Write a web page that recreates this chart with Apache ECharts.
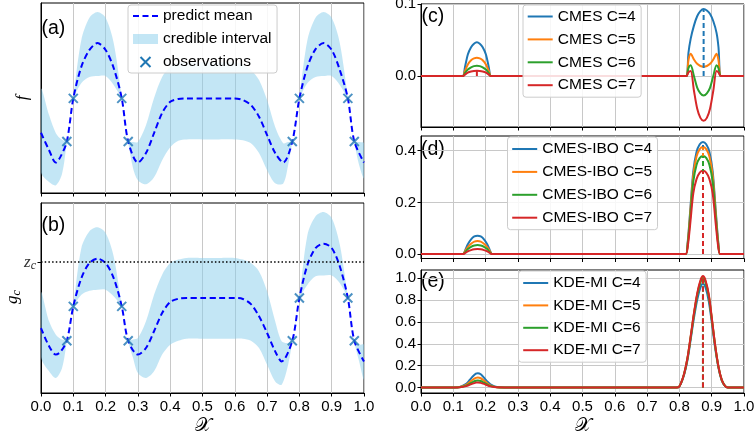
<!DOCTYPE html>
<html><head><meta charset="utf-8">
<script src="https://cdn.jsdelivr.net/npm/echarts@6/dist/echarts.min.js"></script>
<style>html,body{margin:0;padding:0;background:#fff}#c{width:756px;height:435px}</style>
</head><body><div id="c"></div>
<script>
// ---------- panel (a): f ----------
const xMeanA = [0,0.025,0.046,0.06,0.08,0.1,0.125,0.15,0.175,0.2,0.225,0.25,0.27,0.3,0.325,0.35,0.375,0.4,0.425,0.45,0.5,0.55,0.6,0.625,0.65,0.675,0.7,0.725,0.75,0.778,0.8,0.825,0.85,0.875,0.9,0.925,0.95,0.97,1.0];
const meanA  = [0.317,0.225,0.160,0.190,0.271,0.498,0.665,0.753,0.789,0.753,0.658,0.498,0.271,0.160,0.210,0.315,0.421,0.480,0.495,0.498,0.498,0.498,0.498,0.489,0.463,0.401,0.305,0.210,0.160,0.271,0.498,0.665,0.757,0.789,0.753,0.648,0.498,0.271,0.160];
const xBandA = [0,0.025,0.046,0.065,0.08,0.09,0.1,0.125,0.15,0.175,0.2,0.225,0.25,0.26,0.27,0.285,0.3,0.325,0.35,0.375,0.4,0.425,0.45,0.5,0.55,0.6,0.625,0.65,0.675,0.7,0.725,0.75,0.765,0.778,0.79,0.8,0.825,0.85,0.875,0.9,0.925,0.95,0.96,0.97,0.985,1.0];
const hiA = [0.547,0.410,0.315,0.280,0.275,0.390,0.505,0.806,0.922,0.952,0.922,0.790,0.505,0.390,0.275,0.268,0.269,0.357,0.500,0.611,0.664,0.685,0.688,0.688,0.688,0.688,0.674,0.648,0.595,0.489,0.347,0.262,0.268,0.275,0.390,0.505,0.806,0.922,0.952,0.922,0.790,0.505,0.390,0.275,0.268,0.262];
const loA = [0.109,0.058,0.041,0.100,0.267,0.378,0.491,0.579,0.611,0.616,0.616,0.569,0.491,0.378,0.267,0.130,0.067,0.046,0.083,0.173,0.241,0.275,0.282,0.282,0.282,0.282,0.278,0.262,0.210,0.120,0.051,0.050,0.146,0.267,0.378,0.491,0.579,0.611,0.616,0.616,0.569,0.491,0.378,0.267,0.146,0.078];
const obsX  = [0.08,0.1,0.25,0.27,0.778,0.8,0.95,0.97];
const obsFa = [0.271,0.498,0.498,0.271,0.271,0.498,0.498,0.271];

// ---------- panel (b): g_c ----------
const xMeanB = [0,0.025,0.046,0.06,0.08,0.1,0.125,0.15,0.175,0.2,0.225,0.25,0.27,0.3,0.325,0.35,0.375,0.4,0.425,0.45,0.5,0.55,0.6,0.625,0.65,0.675,0.7,0.725,0.745,0.778,0.8,0.825,0.85,0.875,0.9,0.925,0.95,0.97,1.0];
const meanB  = [0.342,0.246,0.202,0.216,0.275,0.456,0.605,0.684,0.707,0.684,0.605,0.456,0.275,0.202,0.237,0.325,0.421,0.479,0.496,0.500,0.500,0.500,0.500,0.495,0.468,0.404,0.316,0.219,0.166,0.275,0.500,0.675,0.763,0.786,0.763,0.667,0.500,0.275,0.166];
const xBandB = [0,0.025,0.046,0.065,0.08,0.09,0.1,0.125,0.15,0.175,0.2,0.225,0.25,0.26,0.27,0.285,0.3,0.325,0.35,0.375,0.4,0.425,0.45,0.5,0.55,0.6,0.625,0.65,0.675,0.7,0.725,0.745,0.765,0.778,0.79,0.8,0.825,0.85,0.875,0.9,0.925,0.95,0.96,0.97,0.985,1.0];
const hiB = [0.530,0.377,0.307,0.281,0.280,0.370,0.462,0.763,0.851,0.872,0.842,0.719,0.462,0.370,0.280,0.281,0.289,0.377,0.517,0.623,0.684,0.702,0.711,0.711,0.711,0.711,0.702,0.684,0.640,0.535,0.377,0.272,0.263,0.280,0.395,0.506,0.833,0.930,0.953,0.921,0.781,0.506,0.395,0.280,0.254,0.254];
const loB = [0.190,0.114,0.079,0.130,0.270,0.360,0.450,0.517,0.538,0.544,0.544,0.509,0.450,0.360,0.270,0.184,0.105,0.079,0.114,0.202,0.254,0.275,0.286,0.286,0.286,0.286,0.286,0.275,0.237,0.149,0.061,0.044,0.149,0.270,0.380,0.494,0.570,0.614,0.619,0.619,0.579,0.494,0.380,0.270,0.166,0.070];
const obsGb = [0.275,0.456,0.456,0.275,0.275,0.500,0.500,0.275];
const zc = 0.689;

// ---------- panel (c): CMES ----------
const xC = [0,0.12,0.13,0.136,0.145,0.155,0.164,0.173,0.182,0.191,0.201,0.21,0.216,0.226,0.81,0.822,0.828,0.835,0.845,0.855,0.865,0.875,0.885,0.895,0.905,0.915,0.921,0.928,0.94,1];
const c4 = [0,0,0,0.012,0.03,0.04,0.045,0.047,0.045,0.04,0.03,0.012,0,0, 0,0,0.032,0.052,0.07,0.083,0.09,0.093,0.091,0.086,0.076,0.06,0.04,0,0,0];
const c5 = [0,0,0,0.007,0.016,0.022,0.0245,0.0255,0.0245,0.022,0.016,0.007,0,0, 0,0,0.022,0.031,0.023,0.017,0.014,0.013,0.014,0.017,0.023,0.031,0.022,0,0,0];
const c6 = [0,0,0,0.004,0.009,0.012,0.0138,0.0144,0.0138,0.012,0.009,0.004,0,0, 0,0,0.011,0.015,0.0,-0.016,-0.024,-0.027,-0.024,-0.016,0.0,0.015,0.011,0,0,0];
const c7 = [0,0,0,0.002,0.0047,0.0063,0.0071,0.0074,0.0071,0.0063,0.0047,0.002,0,0, 0,0,0.005,0.007,-0.02,-0.045,-0.058,-0.062,-0.058,-0.045,-0.02,0.007,0.005,0,0,0];
const cArgX = [0.875, 0.173];
const cArgY = [0.093, 0.0074];
const namesC = ['CMES C=4','CMES C=5','CMES C=6','CMES C=7'];

// ---------- panel (d): CMES-IBO ----------
const xD = [0,0.12,0.13,0.137,0.145,0.155,0.165,0.175,0.185,0.195,0.205,0.213,0.22,0.23,0.81,0.82,0.826,0.833,0.843,0.853,0.863,0.873,0.883,0.893,0.903,0.913,0.92,0.926,0.936,1];
const d4 = [0,0,0,0.015,0.038,0.057,0.068,0.071,0.068,0.057,0.038,0.015,0,0, 0,0,0.05,0.16,0.32,0.395,0.425,0.434,0.425,0.395,0.32,0.16,0.05,0,0,0];
const d5 = [0,0,0,0.011,0.027,0.040,0.048,0.050,0.048,0.040,0.027,0.011,0,0, 0,0,0.045,0.15,0.305,0.378,0.406,0.415,0.406,0.378,0.305,0.15,0.045,0,0,0];
const d6 = [0,0,0,0.007,0.019,0.028,0.033,0.035,0.033,0.028,0.019,0.007,0,0, 0,0,0.04,0.135,0.28,0.345,0.372,0.38,0.372,0.345,0.28,0.135,0.04,0,0,0];
const d7 = [0,0,0,0.004,0.010,0.015,0.018,0.019,0.018,0.015,0.010,0.004,0,0, 0,0,0.03,0.11,0.235,0.29,0.315,0.322,0.315,0.29,0.235,0.11,0.03,0,0,0];
const dArgX = 0.873;
const dPeak = [0.434,0.415,0.38,0.322];
const namesD = ['CMES-IBO C=4','CMES-IBO C=5','CMES-IBO C=6','CMES-IBO C=7'];

// ---------- panel (e): KDE-MI ----------
const xE = [0,0.08,0.1,0.12,0.14,0.15,0.16,0.17,0.176,0.185,0.195,0.205,0.215,0.235,0.26,0.78,0.797,0.805,0.815,0.825,0.835,0.845,0.855,0.865,0.873,0.881,0.891,0.901,0.911,0.921,0.931,0.941,0.95,0.97,1];
const e4 = [0,0,0.0003,0.005,0.034,0.066,0.10,0.126,0.131,0.121,0.09,0.055,0.028,0.004,0, 0,0.002,0.037,0.12,0.25,0.44,0.635,0.80,0.915,0.95,0.915,0.79,0.58,0.355,0.18,0.065,0.014,0,0,0];
const e5 = [0,0,0.0002,0.0035,0.024,0.046,0.07,0.087,0.091,0.084,0.063,0.038,0.019,0.0025,0, 0,0.002,0.04,0.128,0.267,0.465,0.673,0.85,0.97,1.01,0.97,0.84,0.615,0.376,0.188,0.069,0.015,0,0,0];
const e6 = [0,0,0.0002,0.0025,0.017,0.032,0.049,0.061,0.064,0.059,0.044,0.027,0.013,0.0017,0, 0,0.002,0.039,0.127,0.265,0.46,0.667,0.843,0.96,1.0,0.96,0.833,0.608,0.373,0.186,0.069,0.015,0,0,0];
const e7 = [0,0,0.0001,0.0018,0.012,0.023,0.035,0.044,0.046,0.042,0.032,0.019,0.0097,0.0012,0, 0,0.002,0.04,0.13,0.27,0.47,0.68,0.86,0.98,1.02,0.98,0.85,0.62,0.38,0.19,0.07,0.015,0,0,0];
const eArgX = 0.873;
const ePeak = [0.95,1.01,1.0,1.02];
const namesE = ['KDE-MI C=4','KDE-MI C=5','KDE-MI C=6','KDE-MI C=7'];

const yTicksC = [0, 0.1];
const yTicksD = [0, 0.2, 0.4];
const yTicksE = [0, 0.2, 0.4, 0.6, 0.8, 1.0];

// ---------- styling ----------
const F = 'Liberation Sans, Arial, Helvetica, sans-serif';
const SERIF = 'Liberation Serif, DejaVu Serif, serif';
const COLORS = ['#1f77b4','#ff7f0e','#2ca02c','#d62728'];
const BAND = 'rgba(135,206,235,0.5)';
const XPATH = 'path://M0,0L10,10M10,0L0,10';

function pairs(xs, ys){ return xs.map((x,i)=>[x, ys[i]]); }

function xAx(gi, showLabel){
  return {type:'value', gridIndex:gi, min:0, max:1, interval:0.1,
    axisLine:{show:true, onZero:false, lineStyle:{color:'#000', width:1}},
    axisTick:{show:true, inside:false, length:3.5, lineStyle:{color:'#000', width:1}},
    axisLabel:{show:showLabel, color:'#000', fontSize:15, fontFamily:F, margin:6,
      formatter:(v)=>v.toFixed(1), showMinLabel:true, showMaxLabel:true},
    splitLine:{show:true, lineStyle:{color:'#c8c8c8', width:1}}};
}
function yAx(gi, min, max, ticks, grid){
  return {type:'value', gridIndex:gi, min:min, max:max,
    axisLine:{show:true, onZero:false, lineStyle:{color:'#000', width:1}},
    axisTick:{show:true, inside:false, length:3.5, customValues:ticks, lineStyle:{color:'#000', width:1}},
    axisLabel:{show:true, customValues:ticks, color:'#000', fontSize:15, fontFamily:F, margin:5,
      formatter:(v)=>v.toFixed(1)},
    splitLine:{show:grid, lineStyle:{color:'#c8c8c8', width:1}}};
}
function bandRender(xs, lo, hi){
  return function(params, api){
    const pts = [];
    for (let i=0;i<xs.length;i++) pts.push(api.coord([xs[i], hi[i]]));
    for (let i=xs.length-1;i>=0;i--) pts.push(api.coord([xs[i], lo[i]]));
    const cs = params.coordSys;
    return {type:'polygon', shape:{points:pts, smooth:0.3,
      smoothConstraint:[[cs.x, cs.y],[cs.x+cs.width, cs.y+cs.height]]},
      style:{fill:BAND}};
  };
}
function gpLine(name, gi, xs, ys, color){
  return {type:'line', name:name, xAxisIndex:gi, yAxisIndex:gi, data:pairs(xs, ys),
    symbol:'none', smooth:0.3, lineStyle:{color:color, width:2}, itemStyle:{color:color}, z:3};
}
function vDash(gi, x, top, color){
  return {type:'line', xAxisIndex:gi, yAxisIndex:gi, data:[[x,0],[x,top]], symbol:'none',
    lineStyle:{color:color, width:2, type:[5,3]}, z:4, silent:true};
}
function legendBox(names, left, top, padTop, gap, extra){
  return Object.assign({data:names, orient:'vertical', left:left, top:top,
    itemWidth:25, itemHeight:14, itemGap:gap, padding:[padTop,5.5,4,3.7],
    backgroundColor:'rgba(255,255,255,0.85)', borderColor:'#cccccc', borderWidth:1, borderRadius:3,
    itemStyle:{opacity:0},
    textStyle:{fontSize:15.5, fontFamily:F, color:'#000'}, selectedMode:false}, extra||{});
}

const series = [];
// (a)
series.push({type:'custom', name:'credible interval', xAxisIndex:0, yAxisIndex:0, data:[[0.5,0.5]],
  clip:true, renderItem:bandRender(xBandA, loA, hiA), itemStyle:{color:BAND}, z:1, silent:true});
series.push({type:'line', name:'predict mean', xAxisIndex:0, yAxisIndex:0, data:pairs(xMeanA, meanA),
  symbol:'none', smooth:0.3, lineStyle:{color:'#0000ff', width:2, type:[6,3.5]}, itemStyle:{color:'#0000ff'}, z:3});
series.push({type:'scatter', name:'observations', xAxisIndex:0, yAxisIndex:0, data:pairs(obsX, obsFa),
  symbol:XPATH, symbolSize:9, symbolKeepAspect:true,
  itemStyle:{color:'rgba(0,0,0,0)', borderColor:'#1f77b4', borderWidth:2}, z:5});
// (b)
series.push({type:'custom', name:'credible interval', xAxisIndex:1, yAxisIndex:1, data:[[0.5,0.5]],
  clip:true, renderItem:bandRender(xBandB, loB, hiB), itemStyle:{color:BAND}, z:1, silent:true});
series.push({type:'line', name:'predict mean', xAxisIndex:1, yAxisIndex:1, data:pairs(xMeanB, meanB),
  symbol:'none', smooth:0.3, lineStyle:{color:'#0000ff', width:2, type:[6,3.5]}, itemStyle:{color:'#0000ff'}, z:3,
  markLine:{symbol:'none', silent:true, label:{show:false}, data:[{yAxis:zc}],
    lineStyle:{color:'#000', width:1.5, type:[1.5,2.2]}}});
series.push({type:'scatter', name:'observations', xAxisIndex:1, yAxisIndex:1, data:pairs(obsX, obsGb),
  symbol:XPATH, symbolSize:9, symbolKeepAspect:true,
  itemStyle:{color:'rgba(0,0,0,0)', borderColor:'#1f77b4', borderWidth:2}, z:5});
// (c)
[c4,c5,c6,c7].forEach((ys,i)=>series.push(gpLine(namesC[i], 2, xC, ys, COLORS[i])));
series.push(vDash(2, cArgX[0], cArgY[0], COLORS[0]));
series.push(vDash(2, cArgX[1], cArgY[1], COLORS[3]));
// (d)
[d4,d5,d6,d7].forEach((ys,i)=>series.push(gpLine(namesD[i], 3, xD, ys, COLORS[i])));
dPeak.forEach((p,i)=>series.push(vDash(3, dArgX, p, COLORS[i])));
// (e)
[e4,e5,e6,e7].forEach((ys,i)=>series.push(gpLine(namesE[i], 4, xE, ys, COLORS[i])));
ePeak.forEach((p,i)=>series.push(vDash(4, eArgX, p, COLORS[i])));

const gridCommon = {show:true, borderColor:'#000', borderWidth:1, backgroundColor:'rgba(0,0,0,0)', containLabel:false, outerBoundsMode:'none'};
const option = {
  animation:false,
  backgroundColor:'#fff',
  textStyle:{fontFamily:F},
  grid:[
    Object.assign({left:41, top:3, width:323, height:190}, gridCommon),
    Object.assign({left:41, top:203, width:323, height:190}, gridCommon),
    Object.assign({left:421, top:4, width:323, height:123}, gridCommon),
    Object.assign({left:421, top:136, width:323, height:122.5}, gridCommon),
    Object.assign({left:421, top:270, width:323, height:123}, gridCommon)
  ],
  xAxis:[xAx(0,false), xAx(1,true), xAx(2,false), xAx(3,false), xAx(4,true)],
  yAxis:[
    {type:'value', gridIndex:0, min:0, max:1, axisLine:{show:true, lineStyle:{color:'#000'}},
      axisTick:{show:false}, axisLabel:{show:false}, splitLine:{show:false}},
    {type:'value', gridIndex:1, min:0, max:1, axisLine:{show:true, lineStyle:{color:'#000'}},
      axisTick:{show:true, length:3.5, customValues:[zc], lineStyle:{color:'#000'}},
      axisLabel:{show:true, customValues:[zc], margin:5, formatter:()=> '{z|z}{s|c}',
        rich:{z:{fontFamily:SERIF, fontStyle:'italic', fontSize:17, color:'#333'},
              s:{fontFamily:SERIF, fontStyle:'italic', fontSize:12, color:'#333', padding:[8,0,0,0]}}},
      splitLine:{show:false}},
    yAx(2, -0.0707, 0.1, yTicksC, true),
    yAx(3, -0.0174, 0.457, yTicksD, true),
    yAx(4, -0.051, 1.076, yTicksE, true)
  ],
  legend:[
    legendBox([{name:'predict mean', itemStyle:{opacity:0}},
               {name:'credible interval', icon:'rect', itemStyle:{opacity:1}},
               {name:'observations', itemStyle:{opacity:1}}], 128, 5, 3, 7,
      {itemHeight:10, padding:[3,5.5,3,4], itemStyle:{}}),
    legendBox(namesC, 523, 5, 3.5, 6.9),
    legendBox(namesD, 507.5, 137, 4, 6.9),
    legendBox(namesE, 518.5, 271, 4, 6.4)
  ],
  graphic:[
    {type:'text', left:41.5, top:19, silent:true, style:{text:'(a)', fontSize:19.5, fontFamily:F, fill:'#000'}},
    {type:'text', left:41.5, top:216, silent:true, style:{text:'(b)', fontSize:19.5, fontFamily:F, fill:'#000'}},
    {type:'text', left:421.5, top:6.5, silent:true, style:{text:'(c)', fontSize:19.5, fontFamily:F, fill:'#000'}},
    {type:'text', left:421, top:140, silent:true, style:{text:'(d)', fontSize:19.5, fontFamily:F, fill:'#000'}},
    {type:'text', left:421, top:272, silent:true, style:{text:'(e)', fontSize:19.5, fontFamily:F, fill:'#000'}},
    {type:'text', x:22.5, y:98, rotation:Math.PI/2, silent:true,
      style:{text:'f', fontSize:17, fontFamily:SERIF, fontStyle:'italic', fill:'#000', align:'center', verticalAlign:'middle'}},
    {type:'text', x:13, y:297, rotation:Math.PI/2, silent:true,
      style:{text:'{g|g}{c|c}', align:'center', verticalAlign:'middle',
        rich:{g:{fontSize:17, fontFamily:SERIF, fontStyle:'italic', fill:'#000'},
              c:{fontSize:12, fontFamily:SERIF, fontStyle:'italic', fill:'#000', padding:[7,0,0,0]}}}},
    {type:'text', x:202.5, y:426, silent:true,
      style:{text:'\u{1D4B3}', fontSize:19, fontFamily:'DejaVu Serif, DejaVu Sans, Noto Sans, serif', fill:'#000', align:'center', verticalAlign:'middle'}},
    {type:'text', x:582.5, y:426, silent:true,
      style:{text:'\u{1D4B3}', fontSize:19, fontFamily:'DejaVu Serif, DejaVu Sans, Noto Sans, serif', fill:'#000', align:'center', verticalAlign:'middle'}}
  ],
  series:series
};
const chart = echarts.init(document.getElementById('c'), null, {renderer:'canvas'});
chart.setOption(option);
</script></body></html>
